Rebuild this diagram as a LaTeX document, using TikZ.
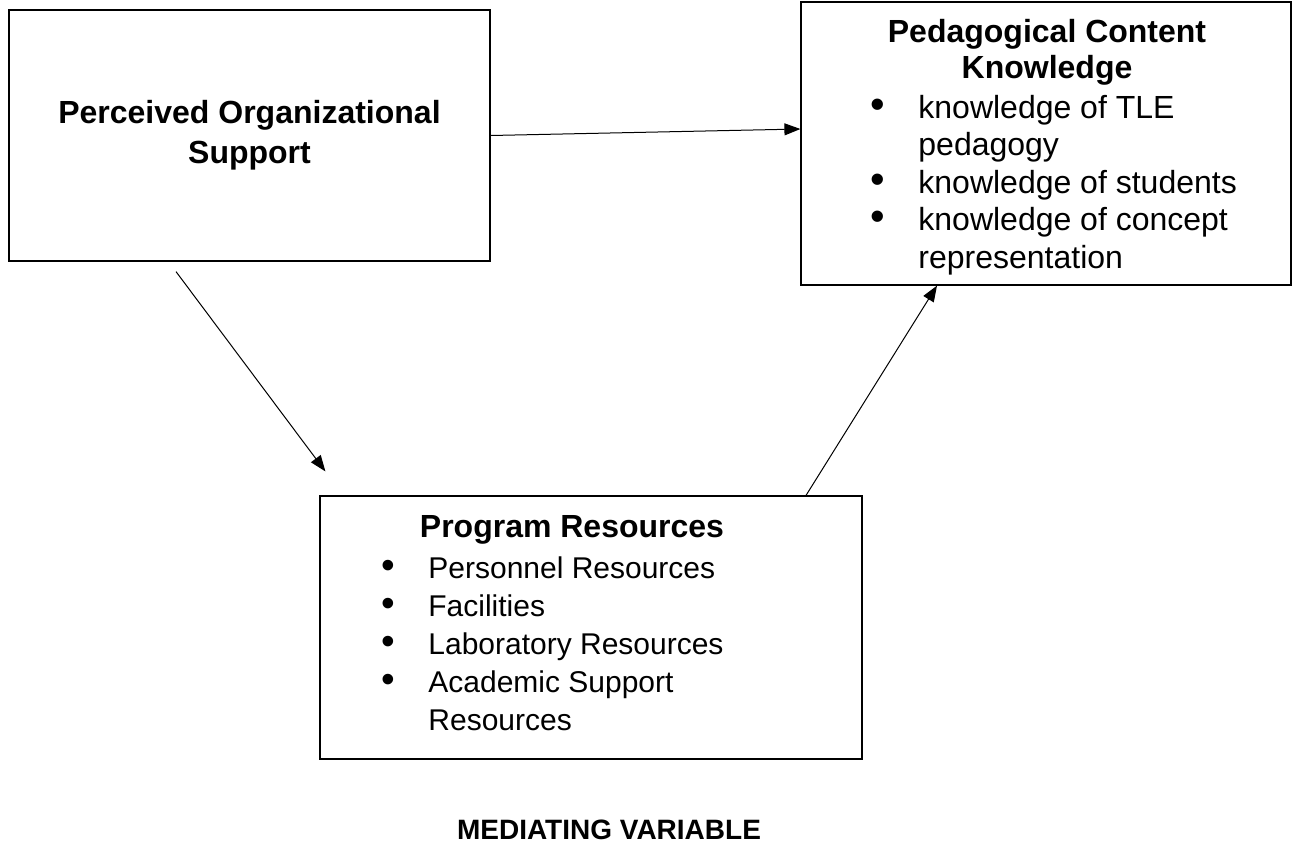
\documentclass[tikz,border=0pt]{standalone}
\usepackage{fontspec}
\setmainfont{Liberation Sans}
\usepackage{graphicx}
\usetikzlibrary{arrows.meta,positioning}

\newcommand{\blt}{\llap{\scalebox{1.3}{\textbullet}\hspace{16.5pt}}}

\begin{document}
\begin{tikzpicture}[x=0.5pt, y=-0.5pt,
    box/.style = {draw, line width=0.6pt, inner sep=0pt},
    head/.style = {font=\fontsize{16pt}{18pt}\selectfont\bfseries, align=center, inner sep=0pt},
    list/.style = {font=\fontsize{15pt}{19pt}\selectfont, align=left, inner sep=0pt},
    arr/.style = {-{Triangle[length=8pt,width=6pt]}, line width=0.5pt}]
        \useasboundingbox (0,0) rectangle (1293,842);

        % boxes
        \node[box, head, font=\fontsize{16pt}{20pt}\selectfont\bfseries, minimum width=240.5pt, minimum height=125.5pt] (pos) at (249.5,135.5) {Perceived Organizational\\Support};
        \node[box, minimum width=245pt, minimum height=141.5pt] (pck) at (1046,143.5) {};
        \node[box, minimum width=271pt, minimum height=131.5pt] (prog) at (591,627.5) {};

        % texts in the boxes (base = last line)
        \node[head, anchor=base] (pcktitle) at (1047,78) {Pedagogical Content\\Knowledge};
        \node[list, font=\fontsize{16pt}{18.75pt}\selectfont, anchor=base west] (pcklist) at (918,268) {\blt knowledge of TLE\\ pedagogy\\ \blt knowledge of students\\ \blt knowledge of concept\\ representation};
        \node[head, anchor=base] (progtitle) at (572,537) {Program Resources};
        \node[list, anchor=base west] (proglist) at (428,730) {\blt Personnel Resources\\ \blt Facilities\\ \blt Laboratory Resources\\ \blt Academic Support\\ Resources};

        \node[font=\fontsize{14pt}{16pt}\selectfont\bfseries, anchor=base] (med) at (609,839) {MEDIATING VARIABLE};

        % connectors
        \draw[arr] (pos.east) -- ([yshift=7.25pt]pck.west);
        \draw[arr] ([xshift=-36.75pt,yshift=-5pt]pos.south) -- ([xshift=3pt,yshift=12pt]prog.north west);
        \draw[arr] ([xshift=107.5pt]prog.north) -- ([xshift=-54.5pt]pck.south);
    \end{tikzpicture}
\end{document}
